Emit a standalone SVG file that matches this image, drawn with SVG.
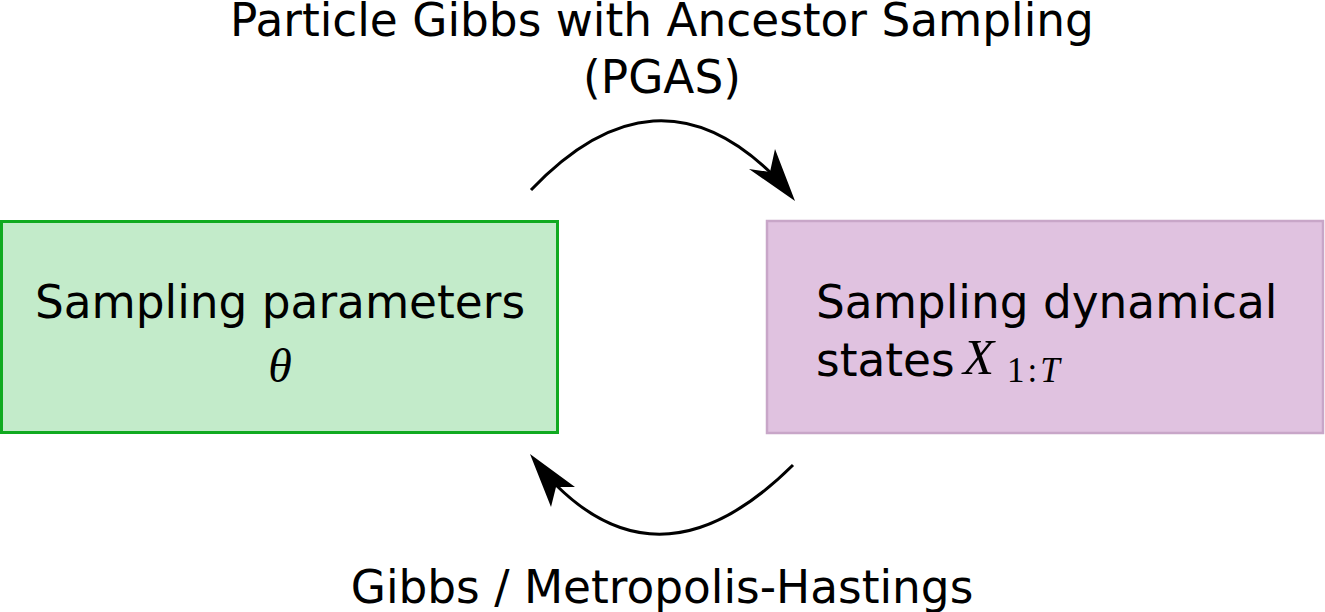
<svg xmlns="http://www.w3.org/2000/svg" width="1325" height="612" viewBox="0 0 1325 612">
<style>
.t{font-family:"DejaVu Sans",sans-serif;font-size:45.4px;fill:#000}
.m{font-family:"Liberation Serif","DejaVu Serif",serif;font-style:italic;fill:#000}
.r{font-family:"Liberation Serif","DejaVu Serif",serif;fill:#000}
.arc{fill:none;stroke:#000;stroke-width:3}
.head{fill:#000;stroke:none}
</style>
<rect width="1325" height="612" fill="#fff"/>
<g id="labels">
<text class="t" x="662" y="36" text-anchor="middle">Particle Gibbs with Ancestor Sampling</text>
<text class="t" x="662" y="93" text-anchor="middle">(PGAS)</text>
<text class="t" x="662" y="603" text-anchor="middle">Gibbs / Metropolis-Hastings</text>
</g>
<g id="params">
<rect x="1.5" y="221.5" width="556" height="211" fill="#c3ebca" stroke="#10aa20" stroke-width="3"/>
<text class="t" x="280" y="318" text-anchor="middle">Sampling parameters</text>
<text class="m" x="280" y="382" font-size="48" text-anchor="middle">θ</text>
</g>
<g id="states">
<rect x="767" y="221" width="556" height="212" fill="#e0c2e0" stroke="#c8a6c8" stroke-width="2.5"/>
<text class="t" x="816" y="376">states</text>
<text class="t" x="816" y="318">Sampling dynamical</text>
<text class="m" x="963" y="374" font-size="51">X</text>
<text class="r" x="1007" y="382" font-size="35" letter-spacing="3">1:<tspan class="m">T</tspan></text>
</g>
<g id="connectors">
<path class="arc" d="M531,190 Q655,60 772,174"/>
<path class="head" d="M795,201 L749,169 L770,172 L775,149 Z"/>
<path class="arc" d="M793,465 Q665,592 557,486"/>
<path class="head" d="M530,454 L575,487 L556,487 L551,507 Z"/>
</g>
</svg>
